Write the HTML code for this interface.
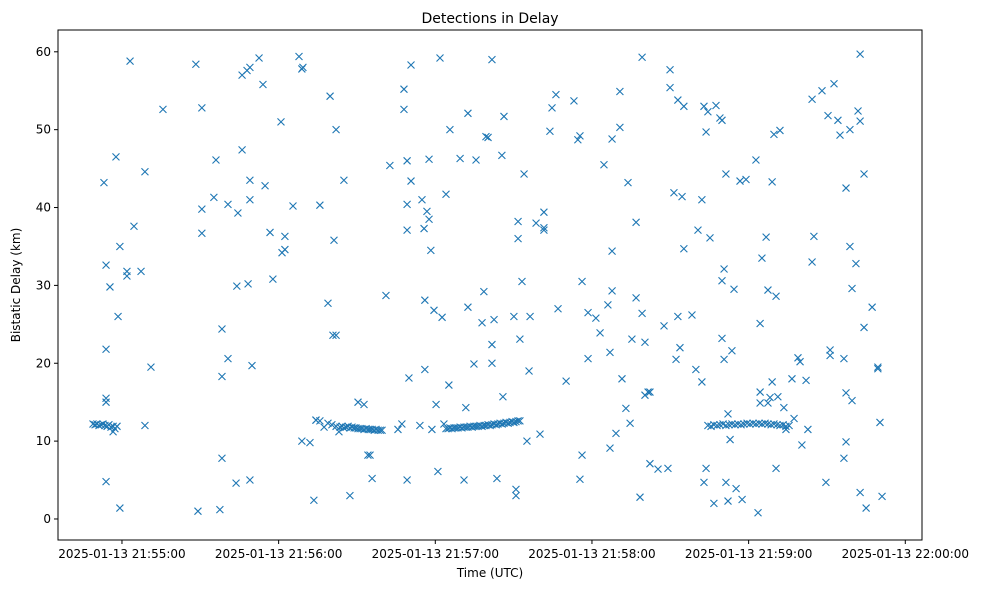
<!DOCTYPE html>
<html><head><meta charset="utf-8"><style>
body{margin:0;background:#fff;font-family:"Liberation Sans","DejaVu Sans",sans-serif;}
svg text{font-family:"DejaVu Sans","Liberation Sans",sans-serif;}
</style></head><body>
<svg id="chart" width="988" height="590" xmlns="http://www.w3.org/2000/svg">
<rect width="988" height="590" fill="#fff"/>
<text x="490" y="23" font-size="14" text-anchor="middle">Detections in Delay</text>
<text x="490" y="577" font-size="12" text-anchor="middle">Time (UTC)</text>
<text x="20" y="285" font-size="12" text-anchor="middle" transform="rotate(-90 20 285)">Bistatic Delay (km)</text>
<g id="marks"></g>
<g id="axes"></g>
<rect x="58" y="30" width="864" height="510" fill="none" stroke="#000" stroke-width="1"/>
</svg>
<script>
// time in seconds after 2025-01-13 21:55:00 UTC, delay in km
const clusterT = [-11.1,-10.3,-9.6,-8.8,-8.0,-7.3,-6.5,-5.7,-5.0,-4.2,-3.4,-2.7,-1.9];
const clusterV = [12.2,12.1,12.2,12.0,12.1,12.2,12.0,11.9,12.1,11.8,11.9,11.6,11.9];
const cluster2T = [74.3,75.8,77.4,78.9,80.4,82.0,83.1,83.5,84.3,85.0,85.8,86.6,87.3,88.1,88.9,89.6,90.4,91.2,91.9,92.7,93.5,94.3,95.0,95.8,96.6,97.3,98.1,98.9,99.6];
const cluster2V = [12.7,12.6,11.8,12.3,12.1,11.9,11.2,11.8,11.9,11.7,11.8,11.9,11.7,11.8,11.7,11.7,11.6,11.6,11.6,11.5,11.6,11.5,11.5,11.5,11.4,11.5,11.4,11.4,11.4];
const cluster3T = [124.1,124.9,125.6,126.4,127.2,127.9,128.7,129.5,130.2,131.0,131.8,132.5,133.3,134.1,134.8,135.6,136.4,137.1,137.9,138.7,139.4,140.2,141.0,141.7,142.5,143.3,144.0,144.8,145.6,146.3,147.1,147.9,148.6,149.4,150.1,150.9,151.7,152.4];
const cluster3V = [11.6,11.6,11.7,11.6,11.7,11.7,11.7,11.8,11.7,11.8,11.8,11.8,11.9,11.8,11.9,11.9,11.9,12.0,11.9,12.0,12.0,12.1,12.0,12.1,12.2,12.1,12.2,12.3,12.2,12.3,12.4,12.3,12.4,12.5,12.4,12.5,12.6,12.6];
const cluster4T = [224.4,225.6,226.7,227.9,229.0,230.2,231.3,232.5,233.6,234.8,235.9,237.1,238.2,239.4,240.5,241.7,242.8,244.0,245.1,246.3,247.4,248.6,249.7,250.9,252.0,253.2,254.3,255.5];
const cluster4V = [12.0,11.9,12.1,12.0,12.1,12.2,12.0,12.1,12.2,12.1,12.2,12.1,12.2,12.3,12.2,12.3,12.2,12.3,12.2,12.3,12.2,12.1,12.2,12.1,12.0,12.1,11.9,12.0];
const scatterT = [-6.9,-6.1,-6.1,-6.1,-6.1,-6.1,-4.6,-3.4,-2.3,-1.5,-0.8,-0.8,1.9,1.9,3.1,4.6,7.3,8.8,8.8,11.1,15.7,
28.3,29.1,30.6,30.6,30.6,35.2,36.0,37.5,38.3,38.3,38.3,40.6,40.6,43.7,44.0,44.4,46.0,46.0,47.9,48.3,49.0,49.0,49.0,49.8,49.0,52.5,54.0,54.8,56.7,57.8,60.9,61.3,62.4,62.4,65.5,67.8,68.9,69.3,68.9,72.0,73.5,74.3,75.8,78.9,79.7,80.8,81.2,82.0,82.0,85.0,87.3,
90.4,92.7,94.2,95.0,95.8,101.1,102.6,105.7,107.2,108.0,108.0,109.2,109.2,109.2,109.2,109.9,110.7,110.7,114.1,114.9,115.7,116.0,116.0,116.8,117.6,118.3,117.6,118.7,119.5,120.3,121.0,121.8,122.6,123.3,124.1,125.2,125.6,129.5,131.0,131.7,132.5,132.5,134.8,135.6,137.9,138.6,139.4,140.2,141.7,141.7,142.5,141.7,143.6,145.5,145.9,146.3,150.1,150.9,150.9,151.7,151.7,152.4,153.2,154.0,155.1,155.9,156.3,158.6,160.1,161.6,161.6,161.6,
163.9,164.7,166.2,167.0,170.1,173.1,174.6,175.4,175.4,176.2,176.2,178.5,178.5,181.5,183.1,184.6,186.1,186.9,186.9,187.7,187.7,187.7,189.2,190.7,190.7,191.5,193.0,193.8,194.6,195.3,196.9,196.9,198.4,199.2,199.2,200.3,200.3,201.5,202.2,202.2,205.3,207.6,209.1,209.9,209.9,211.4,212.2,212.9,212.9,213.7,214.5,215.2,215.2,218.3,219.8,220.6,222.1,222.1,222.9,222.9,223.7,223.7,224.4,225.2,226.7,227.5,229.0,229.8,229.8,229.8,230.6,230.6,231.3,231.3,232.1,232.1,232.9,233.6,234.4,235.2,236.7,237.5,239.0,242.8,243.6,244.4,244.4,244.4,245.1,246.7,247.4,247.4,248.2,249.0,249.0,249.7,250.5,250.5,251.2,252.0,253.5,254.3,256.6,257.4,258.9,259.7,260.4,262.0,262.7,264.3,264.3,265.0,268.1,269.6,270.4,271.2,271.2,272.7,274.2,275.0,276.5,276.5,277.3,277.3,277.3,278.8,278.8,279.6,279.6,281.1,281.9,282.7,282.7,282.7,284.2,284.2,285.0,287.3,289.5,289.5,290.3,291.1];
const scatterV = [43.2,32.6,21.8,15.5,15.0,4.8,29.8,11.2,46.5,26.0,35.0,1.4,31.8,31.2,58.8,37.6,31.8,44.6,12.0,19.5,52.6,
58.4,1.0,39.8,36.7,52.8,41.3,46.1,1.2,7.8,18.3,24.4,40.4,20.6,4.6,29.9,39.3,47.4,57.0,57.6,30.2,43.5,41.0,5.0,19.7,58.0,59.2,55.8,42.8,36.8,30.8,51.0,34.2,36.3,34.6,40.2,59.4,57.8,58.0,10.0,9.8,2.4,12.7,40.3,27.7,54.3,23.6,35.8,23.6,50.0,43.5,3.0,
15.0,14.7,8.2,8.2,5.2,28.7,45.4,11.5,12.2,52.6,55.2,37.1,40.4,46.0,5.0,18.1,43.4,58.3,12.0,41.0,37.3,19.2,28.1,39.5,38.5,34.5,46.2,11.5,26.8,14.7,6.1,59.2,25.9,12.2,41.7,17.2,50.0,46.3,5.0,14.3,27.2,52.1,19.9,46.1,25.2,29.2,49.1,49.0,20.0,22.4,25.6,59.0,5.2,46.7,15.7,51.7,26.0,3.8,3.0,36.0,38.2,23.1,30.5,44.3,10.0,19.0,26.0,38.0,10.9,37.1,37.4,39.4,
49.8,52.8,54.5,27.0,17.7,53.7,48.7,49.2,5.1,8.2,30.5,26.5,20.6,25.8,23.9,45.5,27.5,9.1,21.4,34.4,48.8,29.3,11.0,54.9,50.3,18.0,14.2,43.2,12.3,23.1,38.1,28.4,2.8,26.4,59.3,22.7,15.9,16.3,16.3,7.1,6.4,24.8,6.5,57.7,55.4,41.9,20.5,26.0,53.8,22.0,41.4,53.0,34.7,26.2,19.2,37.1,41.0,17.6,53.0,4.7,49.7,6.5,52.3,36.1,2.0,53.1,51.5,51.2,30.6,23.2,20.5,32.1,44.3,4.7,2.3,13.5,10.2,21.6,29.5,3.9,43.4,2.5,43.6,46.1,0.8,16.3,14.9,25.1,33.5,36.2,29.4,14.9,15.6,17.6,43.3,49.4,28.6,6.5,15.7,49.9,14.3,11.5,18.0,12.9,20.7,20.2,9.5,17.8,11.5,33.0,53.9,36.3,55.0,4.7,51.8,21.7,21.0,55.9,51.2,49.3,20.6,7.8,42.5,16.2,9.9,50.0,35.0,29.6,15.2,32.8,52.4,51.1,59.7,3.4,44.3,24.6,1.4,27.2,19.3,19.5,12.4,2.9];
const xTicks = [0,60,120,180,240,300];
const xTickLabels = ["2025-01-13 21:55:00","2025-01-13 21:56:00","2025-01-13 21:57:00","2025-01-13 21:58:00","2025-01-13 21:59:00","2025-01-13 22:00:00"];
const yTicks = [0,10,20,30,40,50,60];

const L=58,R=922,T=30,B=540, X0=-24.5,X1=306.4, Y0=-2.7,Y1=62.8;
function xs(t){return L+(t-X0)/(X1-X0)*(R-L);}
function ys(v){return B-(v-Y0)/(Y1-Y0)*(B-T);}
const NS="http://www.w3.org/2000/svg";
const marks=document.getElementById('marks');
function addPts(tA,vA){
  for(let i=0;i<tA.length;i++){
    const x=xs(tA[i]),y=ys(vA[i]),s=3.5;
    const p=document.createElementNS(NS,'path');
    p.setAttribute('d',`M${x-s},${y-s}L${x+s},${y+s}M${x-s},${y+s}L${x+s},${y-s}`);
    p.setAttribute('stroke','#1f77b4');p.setAttribute('stroke-width','1.1');p.setAttribute('fill','none');
    
    
    marks.appendChild(p);
  }
}
addPts(clusterT,clusterV);addPts(cluster2T,cluster2V);addPts(cluster3T,cluster3V);addPts(cluster4T,cluster4V);addPts(scatterT,scatterV);
const axes=document.getElementById('axes');
xTicks.forEach((t,i)=>{
  const x=xs(t);
  const l=document.createElementNS(NS,'line');
  l.setAttribute('x1',x);l.setAttribute('x2',x);l.setAttribute('y1',B);l.setAttribute('y2',B+4);l.setAttribute('stroke','#000');
  
  
  axes.appendChild(l);
  const tx=document.createElementNS(NS,'text');
  tx.setAttribute('x',x);tx.setAttribute('y',B+18);tx.setAttribute('font-size','12');tx.setAttribute('text-anchor','middle');
  tx.textContent=xTickLabels[i];
  
  
  axes.appendChild(tx);
});
yTicks.forEach(v=>{
  const y=ys(v);
  const l=document.createElementNS(NS,'line');
  l.setAttribute('x1',L-4);l.setAttribute('x2',L);l.setAttribute('y1',y);l.setAttribute('y2',y);l.setAttribute('stroke','#000');
  
  
  axes.appendChild(l);
  const tx=document.createElementNS(NS,'text');
  tx.setAttribute('x',L-7);tx.setAttribute('y',y+4);tx.setAttribute('font-size','12');tx.setAttribute('text-anchor','end');
  tx.textContent=v;
  
  
  axes.appendChild(tx);
});
</script>
</body></html>
